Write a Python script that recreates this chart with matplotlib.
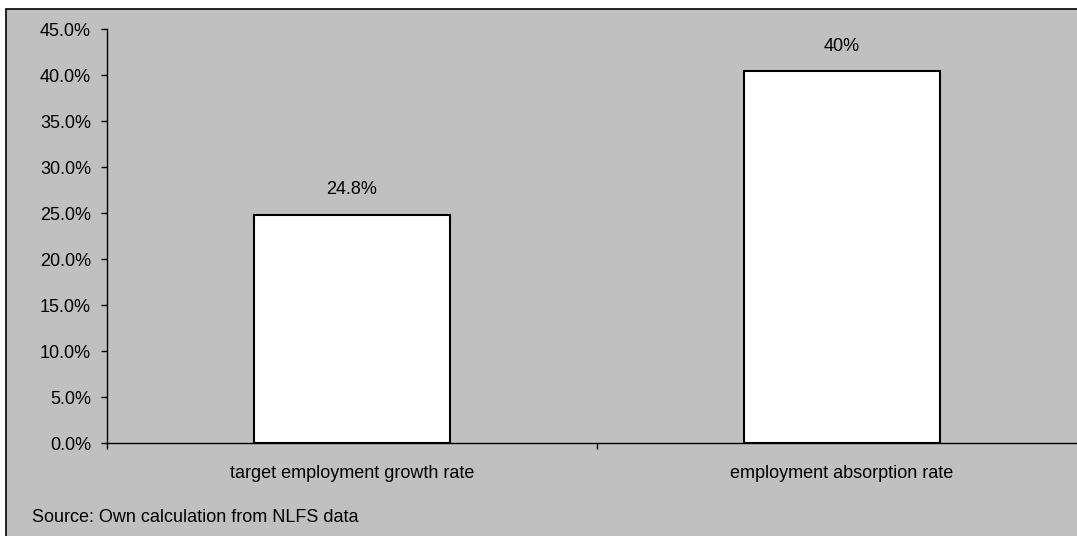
import matplotlib.pyplot as plt
from matplotlib.patches import Rectangle
from matplotlib.ticker import FuncFormatter, MultipleLocator

plt.rcParams["font.family"] = ["Liberation Sans", "DejaVu Sans"]

CATEGORIES = ["target employment growth rate", "employment absorption rate"]
VALUES = [24.8, 40.4]
VALUE_LABELS = ["24.8%", "40%"]
SOURCE = "Source: Own calculation from NLFS data"

W, H = 1077, 536
GRAY = "#c0c0c0"


def px(x, y):
    return x / W, 1 - y / H


fig = plt.figure(figsize=(W / 100, H / 100), dpi=100, facecolor="white")

# chart area background (cropped on right and bottom)
fig.patches.append(Rectangle((6 / W, -0.1), 1.2, (H - 9) / H + 0.1,
                             transform=fig.transFigure, facecolor=GRAY,
                             edgecolor="black", linewidth=1.2, zorder=-10))

# axes: x from 107 to 1087 px, y from 29 to 443 px
left, bottom = 107 / W, (H - 443) / H
ax = fig.add_axes([left, bottom, 980 / W, 414 / H])
ax.set_zorder(1)
ax.patch.set_visible(False)

x = list(range(len(CATEGORIES)))
ax.bar(x, VALUES, width=0.4, color="white", edgecolor="black", linewidth=1.5, zorder=2)
for xi, v, lab in zip(x, VALUES, VALUE_LABELS):
    ax.annotate(lab, (xi, v), xytext=(0, 12), textcoords="offset points",
                ha="center", va="bottom", fontsize=13)

ax.set_xlim(-0.5, 1.5)
ax.set_ylim(0, 45)
ax.yaxis.set_major_locator(MultipleLocator(5))
ax.yaxis.set_major_formatter(FuncFormatter(lambda v, _: f"{v:.1f}%"))
ax.tick_params(axis="y", direction="out", length=4.5, width=1, pad=7, labelsize=13)

ax.set_xticks([-0.5, 0.5, 1.5])
ax.set_xticklabels([])
ax.tick_params(axis="x", which="major", direction="out", length=4.5, width=1)
ax.set_xticks(x, minor=True)
ax.set_xticklabels(CATEGORIES, minor=True)
ax.tick_params(axis="x", which="minor", length=0, pad=16, labelsize=13)

for side in ["top", "right"]:
    ax.spines[side].set_visible(False)
ax.spines["left"].set_linewidth(1)
ax.spines["bottom"].set_linewidth(1)

fig.text(*px(32, 518), SOURCE, ha="left", va="center", fontsize=13)

fig.savefig("out.png", dpi=100)
